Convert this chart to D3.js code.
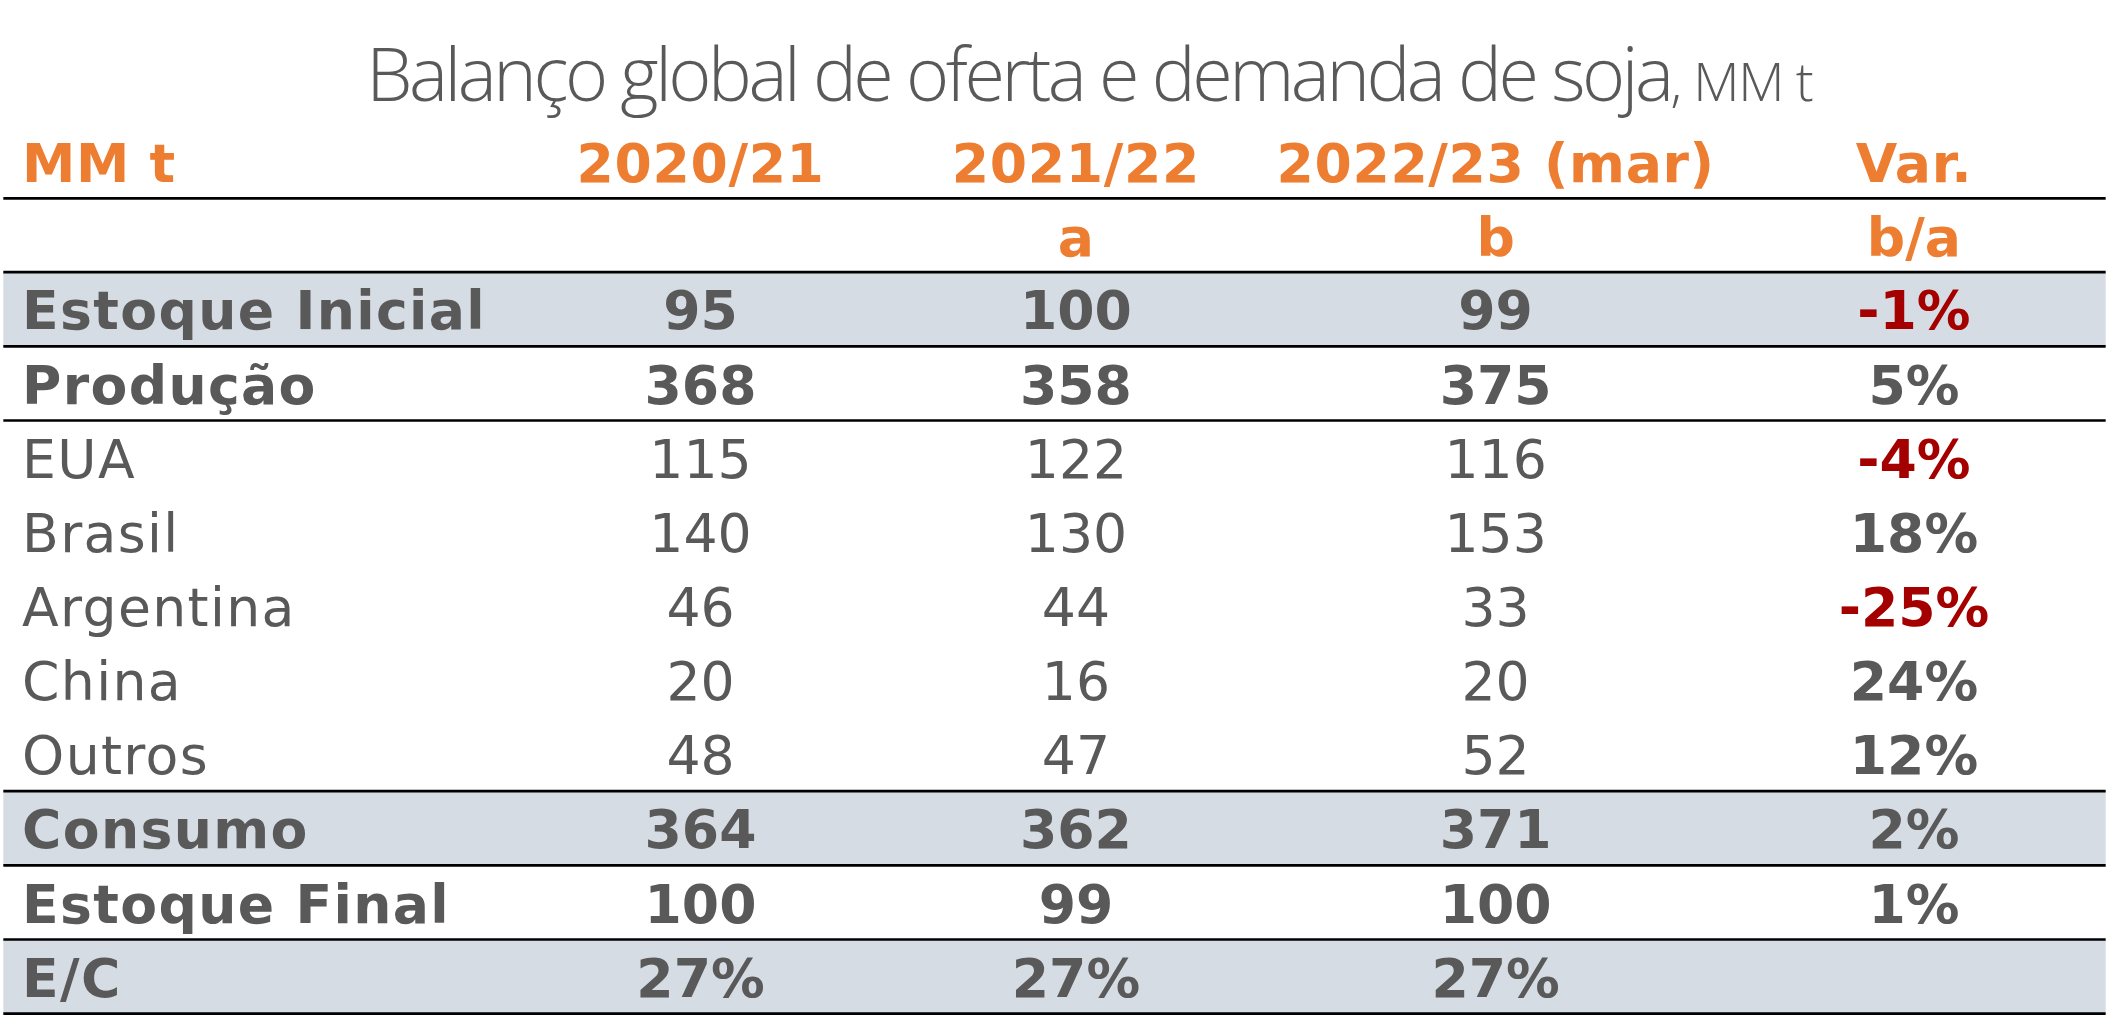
<!DOCTYPE html>
<html><head><meta charset="utf-8">
<script src="https://cdn.jsdelivr.net/npm/d3@7"></script>
<style>body{margin:0;background:#fff}</style>
</head><body>
<div id="chart"></div>
<script>
const headers = ['MM t', '2020/21', '2021/22', '2022/23 (mar)', 'Var.'];
const subHeaders = ['', '', 'a', 'b', 'b/a'];
const rowLabels = ['Estoque Inicial', 'Produção', 'EUA', 'Brasil', 'Argentina', 'China', 'Outros', 'Consumo', 'Estoque Final', 'E/C'];
const v2021 = ['95', '368', '115', '140', '46', '20', '48', '364', '100', '27%'];
const v2122 = ['100', '358', '122', '130', '44', '16', '47', '362', '99', '27%'];
const v2223 = ['99', '375', '116', '153', '33', '20', '52', '371', '100', '27%'];
const varBA = ['-1%', '5%', '-4%', '18%', '-25%', '24%', '12%', '2%', '1%', ''];
const boldRows = ['Estoque Inicial', 'Produção', 'Consumo', 'Estoque Final', 'E/C'];
const shadedRows = ['Estoque Inicial', 'Consumo', 'E/C'];
const ruleAfter = ['Estoque Inicial', 'Produção', 'Outros', 'Consumo', 'Estoque Final', 'E/C'];

const W = 1568, H = 760;
const svg = d3.select('#chart').append('svg')
    .attr('width', 2109).attr('height', 1019)
    .attr('viewBox', `0 0 ${W} ${H}`);

const gray = '#595959', orange = '#ED7D31', red = '#A50000';
const font = 'DejaVu Sans';
const fs = 40;

// column centers
const colX = d3.scaleOrdinal().domain([1, 2, 3, 4]).range([520, 800, 1113, 1425]);
const rowY = d3.scaleBand().domain(rowLabels).range([203, 756]);

// title
const title = svg.append('text')
    .attr('x', 810).attr('y', 75)
    .attr('text-anchor', 'middle')
    .attr('fill', gray)
    .style('font-family', 'Open Sans').style('font-weight', 300);
title.append('tspan').attr('font-size', 55).attr('letter-spacing', -2.6)
    .text('Balanço global de oferta e demanda de soja');
title.append('tspan').attr('font-size', 40).attr('letter-spacing', -1).text(', MM t');

// header rows
headers.forEach((h, i) => {
    svg.append('text')
        .attr('x', i === 0 ? 14 : colX(i)).attr('y', 136)
        .attr('text-anchor', i === 0 ? 'start' : 'middle')
        .attr('fill', orange).attr('font-size', fs).attr('font-weight', 'bold')
        .attr('letter-spacing', 0.5)
        .style('font-family', font).text(h);
});
subHeaders.forEach((h, i) => {
    if (!h) return;
    svg.append('text')
        .attr('x', colX(i)).attr('y', 191)
        .attr('text-anchor', 'middle')
        .attr('fill', orange).attr('font-size', fs).attr('font-weight', 'bold')
        .style('font-family', font).text(h);
});

// shaded bands
svg.selectAll('rect.band').data(shadedRows).enter().append('rect')
    .attr('class', 'band')
    .attr('x', 0).attr('width', W)
    .attr('y', d => rowY(d)).attr('height', rowY.bandwidth())
    .attr('fill', '#D6DCE4');

// rules
const rules = [148, 203].concat(ruleAfter.map(d => rowY(d) + rowY.bandwidth()));
svg.selectAll('line.rule').data(rules).enter().append('line')
    .attr('x1', 0).attr('x2', W)
    .attr('y1', d => d).attr('y2', d => d)
    .attr('stroke', '#000').attr('stroke-width', 2);

// body cells
const cols = [v2021, v2122, v2223, varBA];
rowLabels.forEach((r, ri) => {
    const y = rowY(r) + rowY.bandwidth() / 2 + 15;
    const bold = boldRows.includes(r);
    svg.append('text')
        .attr('x', 14).attr('y', y)
        .attr('fill', gray).attr('font-size', fs)
        .attr('letter-spacing', 1)
        .attr('font-weight', bold ? 'bold' : 'normal')
        .style('font-family', font).text(r);
    cols.forEach((c, ci) => {
        const t = c[ri];
        if (!t) return;
        const isVar = ci === 3;
        svg.append('text')
            .attr('x', colX(ci + 1)).attr('y', y)
            .attr('text-anchor', 'middle')
            .attr('fill', isVar && t.startsWith('-') ? red : gray)
            .attr('font-size', fs)
            .attr('font-weight', bold || isVar ? 'bold' : 'normal')
            .style('font-family', font).text(t);
    });
});
</script>
</body></html>
